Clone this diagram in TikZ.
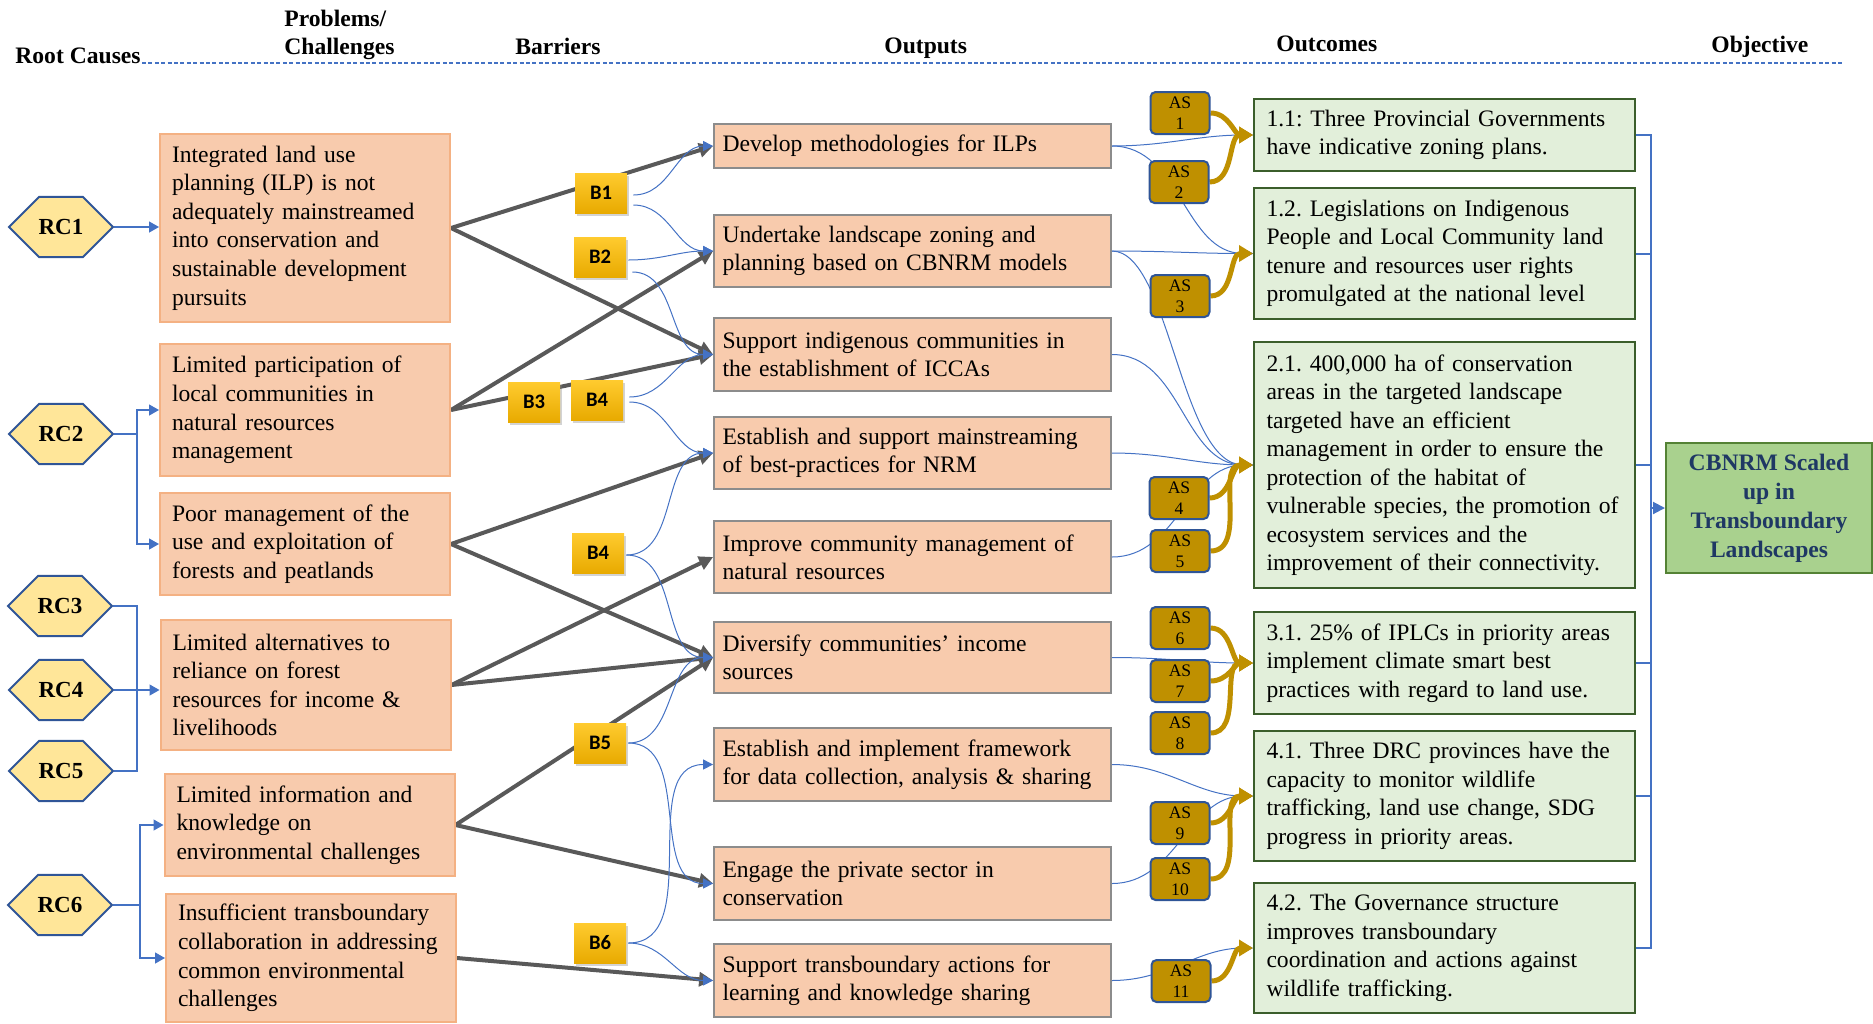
\documentclass[tikz,border=0pt]{standalone}
\usepackage{fontspec}
\setmainfont{Liberation Serif}
\newfontfamily\barfont{Carlito}
\usetikzlibrary{arrows.meta,shapes.misc,shadows,backgrounds}
\frenchspacing
\definecolor{peach}{HTML}{F8CBAD}
\definecolor{peachline}{HTML}{F4B183}
\definecolor{boxgrey}{HTML}{8C8C8C}
\definecolor{leaf}{HTML}{E2EFDA}
\definecolor{leafline}{HTML}{3B5E2B}
\definecolor{goalfill}{HTML}{A9D18E}
\definecolor{goalline}{HTML}{548235}
\definecolor{navy}{HTML}{1F3864}
\definecolor{hexfill}{HTML}{FFE699}
\definecolor{hexline}{HTML}{2F5597}
\definecolor{link}{HTML}{4472C4}
\definecolor{steel}{HTML}{595959}
\definecolor{ochre}{HTML}{BF9000}
\definecolor{barlight}{HTML}{FFCB2F}
\definecolor{bardark}{HTML}{E8AA00}
\tikzset{
  head/.style={font=\bfseries\fontsize{11.8}{14}\selectfont, inner sep=0pt, align=left},
  cause/.style={chamfered rectangle, chamfered rectangle xsep=7.25pt, chamfered rectangle ysep=14.9pt,
    minimum width=52pt, minimum height=30pt, inner sep=0pt, fill=hexfill, draw=hexline, line width=1pt,
    font=\bfseries\fontsize{11.5}{13}\selectfont},
  problem/.style={fill=peach, draw=peachline, line width=1pt, text width=133pt, inner xsep=6pt,
    inner ysep=0pt, align=left, font=\fontsize{11.8}{14.3}\selectfont},
  output/.style={fill=peach, draw=boxgrey, line width=0.9pt, text width=190pt, inner xsep=4.25pt,
    inner ysep=0pt, align=left, font=\fontsize{11.8}{14.2}\selectfont},
  outcome/.style={fill=leaf, draw=leafline, line width=1pt, text width=178pt, inner xsep=6.25pt,
    inner ysep=0pt, align=left, font=\fontsize{11.8}{14.25}\selectfont},
  goal/.style={fill=goalfill, draw=goalline, line width=1pt, minimum width=103pt, minimum height=65pt,
    align=center, text=navy, font=\bfseries\fontsize{11.8}{14.5}\selectfont},
  barrier/.style={top color=barlight, bottom color=bardark, minimum width=26pt, minimum height=20pt,
    inner sep=0pt, font=\barfont\bfseries\fontsize{10.3}{12}\selectfont,
    drop shadow={shadow xshift=0.8pt, shadow yshift=-1.3pt, opacity=0.35}},
  support/.style={fill=ochre, draw=hexline, line width=1pt, rounded corners=2.5pt, minimum width=29.5pt,
    minimum height=21pt, inner sep=0pt, align=center, font=\fontsize{8.8}{10.5}\selectfont},
  thin/.style={draw=link, line width=0.5pt},
  tip/.style={thin, -{Triangle[length=5pt,width=5pt]}},
  feed/.style={draw=link, line width=0.65pt, -{Triangle[length=5pt,width=5.5pt]}},
  heavy/.style={draw=steel, line width=2pt, -{Triangle[length=7pt,width=7pt]}},
  gold/.style={draw=ochre, line width=2.5pt, -{Triangle[length=7pt,width=8pt]}},
  bus/.style={draw=link, line width=1pt}
}
\begin{document}
\begin{tikzpicture}[x=0.5pt,y=-0.5pt]
\useasboundingbox (0,0) rectangle (1873,1023);
\node[head, anchor=base west] (hroot) at (15,63) {Root Causes};
\node[head, anchor=west] (hprob) at (284,35) {Problems/\\Challenges};
\node[head, anchor=base west] (hbar) at (515,54) {Barriers};
\node[head, anchor=base west] (hout) at (884,53) {Outputs};
\node[head, anchor=base west] (hoc) at (1276,51) {Outcomes};
\node[head, anchor=base west] (hobj) at (1711,52) {Objective};
\draw[link, line width=0.6pt, dash pattern=on 2pt off 1.2pt] (142,63) -- (1842,63);

\node[cause] (RC1) at (61,227) {RC1};
\node[cause] (RC2) at (61,434) {RC2};
\node[cause] (RC3) at (60,606) {RC3};
\node[cause] (RC4) at (61,690) {RC4};
\node[cause] (RC5) at (61,771) {RC5};
\node[cause] (RC6) at (60,905) {RC6};

\node[problem, minimum height=94pt] (P1) at (305,228) {Integrated land use\\planning (ILP) is not\\adequately mainstreamed\\into conservation and\\sustainable development\\pursuits};
\node[problem, minimum height=66pt] (P2) at (305,410) {Limited participation of\\local communities in\\natural resources\\management};
\node[problem, minimum height=51pt] (P3) at (305,544) {Poor management of the\\use and exploitation of\\forests and peatlands};
\node[problem, minimum height=65pt] (P4) at (305.5,685) {Limited alternatives to\\reliance on forest\\resources for income \&\\livelihoods};
\node[problem, minimum height=51pt] (P5) at (309.5,825) {Limited information and\\knowledge on\\environmental challenges};
\node[problem, minimum height=64pt] (P6) at (311,958) {Insufficient transboundary\\collaboration in addressing\\common environmental\\challenges};

\node[output, minimum height=22pt] (O1) at (912.5,146) {Develop methodologies for ILPs};
\node[output, minimum height=36pt] (O2) at (912.5,251) {Undertake landscape zoning and\\planning based on CBNRM models};
\node[output, minimum height=36.5pt] (O3) at (912.5,354.5) {Support indigenous communities in\\the establishment of ICCAs};
\node[output, minimum height=36pt] (O4) at (912.5,453) {Establish and support mainstreaming\\of best-practices for NRM};
\node[output, minimum height=36pt] (O5) at (912.5,557) {Improve community management of\\natural resources};
\node[output, minimum height=35.5pt] (O6) at (912.5,657.5) {Diversify communities’ income\\sources};
\node[output, minimum height=36.5pt] (O7) at (912.5,764.5) {Establish and implement framework\\for data collection, analysis \& sharing};
\node[output, minimum height=36.5pt] (O8) at (912.5,883.5) {Engage the private sector in\\conservation};
\node[output, minimum height=36.5pt] (O9) at (912.5,980.5) {Support transboundary actions for\\learning and knowledge sharing};

\node[outcome, minimum height=36pt] (OC1) at (1444.5,135) {1.1: Three Provincial Governments\\have indicative zoning plans.};
\node[outcome, minimum height=65.5pt] (OC2) at (1444.5,253.5) {1.2. Legislations on Indigenous\\People and Local Community land\\tenure and resources user rights\\promulgated at the national level};
\node[outcome, minimum height=123pt] (OC3) at (1444.5,465) {2.1. 400,000 ha of conservation\\areas in the targeted landscape\\targeted have an efficient\\management in order to ensure the\\protection of the habitat of\\vulnerable species, the promotion of\\ecosystem services and the\\improvement of their connectivity.};
\node[outcome, minimum height=51pt] (OC4) at (1444.5,663) {3.1. 25\% of IPLCs in priority areas\\implement climate smart best\\practices with regard to land use.};
\node[outcome, minimum height=65pt] (OC5) at (1444.5,796) {4.1. Three DRC provinces have the\\capacity to monitor wildlife\\trafficking, land use change, SDG\\progress in priority areas.};
\node[outcome, minimum height=65pt] (OC6) at (1444.5,948) {4.2. The Governance structure\\improves transboundary\\coordination and actions against\\wildlife trafficking.};

\node[goal] (obj) at (1769,508) {CBNRM Scaled\\up in\\Transboundary\\Landscapes};

\node[barrier] (B1) at (601,193) {B1};
\node[barrier] (B2) at (600,257) {B2};
\node[barrier] (B3) at (534,402) {B3};
\node[barrier] (B4a) at (597,400) {B4};
\node[barrier] (B4b) at (598,553) {B4};
\node[barrier] (B5) at (600,743) {B5};
\node[barrier] (B6) at (600,943) {B6};

\node[support] (AS1) at (1180,113) {AS\\1};
\node[support] (AS2) at (1179,182) {AS\\2};
\node[support] (AS3) at (1180,296) {AS\\3};
\node[support] (AS4) at (1179,498) {AS\\4};
\node[support] (AS5) at (1180,551) {AS\\5};
\node[support] (AS6) at (1180,628) {AS\\6};
\node[support] (AS7) at (1180,681) {AS\\7};
\node[support] (AS8) at (1180,733) {AS\\8};
\node[support] (AS9) at (1180,823) {AS\\9};
\node[support] (AS10) at (1180,879) {AS\\10};
\node[support] (AS11) at (1181,981) {AS\\11};

\coordinate (j1) at (137,0);
\coordinate (j2) at (140,0);
\coordinate (busx) at (1651,0);

\begin{pgfonlayer}{background}
\draw[feed] (RC1.east) -- (RC1.east -| P1.west);
\draw[feed] (RC2.east) -- (RC2.east -| j1) |- (P2.west);
\draw[feed] (RC2.east -| j1) |- (P3.west);
\draw[thin, line width=0.65pt] (RC3.east) -| (j1 |- RC5.east) -- (RC5.east);
\draw[feed] (RC4.east) -- (RC4.east -| P4.west);
\draw[feed] (RC6.east) -- (RC6.east -| j2) |- (P5.west);
\draw[feed] (RC6.east -| j2) |- (P6.west);

\draw[heavy] (P1.east) -- (O1.west);
\draw[heavy] (P1.east) -- (O3.west);
\draw[heavy] (P2.east) -- (O2.west);
\draw[heavy] (P2.east) -- (O3.west);
\draw[heavy] (P3.east) -- (O4.west);
\draw[heavy] (P3.east) -- (O6.west);
\draw[heavy] (P4.east) -- (O5.west);
\draw[heavy] (P4.east) -- (O6.west);
\draw[heavy] (P5.east) -- (O6.west);
\draw[heavy] (P5.east) -- (O8.west);
\draw[heavy] (P6.east) -- (O9.west);

\draw[tip] ([shift={(3pt,-1pt)}]B1.east) to[out=0,in=180] (O1.west);
\draw[tip] ([shift={(3pt,-6pt)}]B1.east) to[out=0,in=180] (O2.west);
\draw[tip] ([shift={(1pt,-1.5pt)}]B2.east) to[out=0,in=180] (O2.west);
\draw[tip] ([shift={(3pt,-7.5pt)}]B2.east) to[out=0,in=180] (O3.west);
\draw[tip] ([shift={(3pt,1.5pt)}]B4a.east) to[out=0,in=180] (O3.west);
\draw[tip] ([shift={(3pt,-1pt)}]B4a.east) to[out=0,in=180] (O4.west);
\draw[tip] ([shift={(1pt,-1pt)}]B4b.east) to[out=0,in=180] (O4.west);
\draw[tip] ([shift={(1pt,-1pt)}]B4b.east) to[out=0,in=180] (O6.west);
\draw[tip] ([xshift=1pt]B5.east) to[out=0,in=180] (O6.west);
\draw[tip] ([xshift=1pt]B5.east) to[out=0,in=180] (O8.west);
\draw[tip] ([xshift=1pt]B6.east) to[out=0,in=180] (O7.west);
\draw[tip] ([xshift=1pt]B6.east) to[out=0,in=180] (O9.west);

\draw[tip] (O1.east) to[out=0,in=180] (OC1.west);
\draw[tip] (O1.east) to[out=0,in=180] (OC2.west);
\draw[tip] (O2.east) to[out=0,in=180] (OC2.west);
\draw[tip] (O2.east) .. controls (1170,251) and (1180,465) .. (OC3.west);
\draw[tip] (O3.east) to[out=0,in=180] (OC3.west);
\draw[tip] (O4.east) to[out=0,in=180] (OC3.west);
\draw[tip] (O5.east) to[out=0,in=180] (OC3.west);
\draw[tip] (O6.east) to[out=0,in=180] (OC4.west);
\draw[tip] (O7.east) to[out=0,in=180] (OC5.west);
\draw[tip] (O8.east) to[out=0,in=180] (OC5.west);
\draw[tip] (O9.east) to[out=0,in=180] (OC6.west);

\draw[gold] (AS1.east) to[out=0,in=180] (OC1.west);
\draw[gold] (AS2.east) to[out=0,in=180] (OC1.west);
\draw[gold] (AS3.east) to[out=0,in=180] (OC2.west);
\draw[gold] (AS4.east) to[out=0,in=180] (OC3.west);
\draw[gold] (AS5.east) to[out=0,in=180] (OC3.west);
\draw[gold] (AS6.east) to[out=0,in=180] (OC4.west);
\draw[gold] (AS7.east) to[out=0,in=180] (OC4.west);
\draw[gold] (AS8.east) to[out=0,in=180] (OC4.west);
\draw[gold] (AS9.east) to[out=0,in=180] (OC5.west);
\draw[gold] (AS10.east) to[out=0,in=180] (OC5.west);
\draw[gold] (AS11.east) to[out=0,in=180] (OC6.west);

\draw[bus] (OC1.east) -| (busx |- OC6.east) -- (OC6.east);
\draw[bus] (OC2.east) -- (OC2.east -| busx);
\draw[bus] (OC3.east) -- (OC3.east -| busx);
\draw[bus] (OC4.east) -- (OC4.east -| busx);
\draw[bus] (OC5.east) -- (OC5.east -| busx);
\draw[bus, -{Triangle[length=6pt,width=6pt]}] (busx |- obj.west) -- (obj.west);
\end{pgfonlayer}
\end{tikzpicture}
\end{document}
